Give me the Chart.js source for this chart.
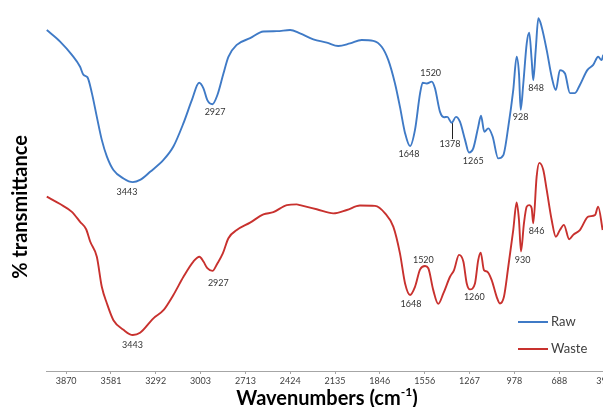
<!DOCTYPE html>
<html>
<head>
<meta charset="utf-8">
<script src="https://cdn.jsdelivr.net/npm/chart.js@4/dist/chart.umd.min.js"></script>
<style>
  html, body { margin: 0; padding: 0; background: #fff; overflow: hidden; }
  #wrap { position: relative; width: 640px; height: 407px; }
</style>
</head>
<body>
<div id="wrap"><canvas id="ftir"></canvas></div>
<script>
// wavenumber ticks (cm-1), as printed on the axis
const tickLabels = [3870, 3581, 3292, 3003, 2713, 2424, 2135, 1846, 1556, 1267, 978, 688, 399];

// Raw sample: wavenumber / % transmittance
const rawWn = [3995, 3909, 3833, 3780, 3758, 3733, 3704, 3672, 3640, 3607, 3565, 3500, 3440, 3393, 3328, 3242, 3178, 3113, 3059, 3012,
  2984, 2959, 2926, 2894, 2855, 2823, 2769, 2683, 2597, 2511, 2425, 2361, 2275, 2188, 2114, 2038, 1963, 1888, 1834, 1791,
  1748, 1716, 1683, 1651, 1619, 1586, 1569, 1543, 1511, 1490, 1458, 1432, 1411, 1382, 1355, 1329, 1296, 1271, 1243, 1211,
  1193, 1172, 1146, 1118, 1082, 1049, 1017, 985, 963, 948, 937, 920, 898, 882, 866, 856, 840, 823, 802, 769,
  737, 710, 684, 651, 619, 587, 555, 507, 469, 437, 415, 404];
const rawT = [91.9, 88.8, 85.2, 82.0, 79.8, 79.2, 74.9, 68.5, 62.3, 57.8, 54.2, 51.9, 50.9, 51.5, 53.7, 56.9, 60.5, 66.8, 73.0, 77.7,
  76.2, 73.0, 71.9, 74.4, 80.2, 84.7, 87.9, 89.7, 91.5, 91.6, 91.9, 91.0, 89.4, 88.5, 87.6, 88.3, 89.2, 89.0, 87.4, 83.8,
  77.5, 71.2, 64.1, 60.6, 65.0, 74.9, 77.7, 77.5, 78.0, 76.2, 69.9, 68.4, 68.5, 66.9, 68.5, 67.2, 62.3, 58.9, 60.0, 65.8,
  68.8, 64.5, 65.4, 63.2, 57.3, 58.2, 65.8, 75.7, 84.7, 80.2, 70.4, 77.5, 88.3, 91.2, 83.8, 78.4, 86.5, 95.1, 92.8, 86.5,
  79.3, 75.7, 81.1, 80.2, 74.9, 74.9, 77.1, 81.1, 82.5, 84.7, 83.8, 85.2];

// Waste sample
const wasteWn = [3995, 3909, 3833, 3780, 3741, 3715, 3672, 3640, 3607, 3565, 3500, 3440, 3393, 3307, 3242, 3178, 3113, 3049, 3010, 2984,
  2959, 2926, 2894, 2859, 2823, 2769, 2683, 2597, 2533, 2446, 2382, 2361, 2253, 2146, 2059, 1974, 1877, 1812, 1759, 1716,
  1683, 1651, 1619, 1586, 1554, 1533, 1501, 1469, 1436, 1393, 1367, 1335, 1307, 1285, 1264, 1232, 1211, 1195, 1174, 1153,
  1124, 1092, 1071, 1045, 1017, 985, 963, 948, 935, 916, 898, 882, 866, 856, 834, 817, 791, 769, 737, 710,
  684, 658, 624, 598, 555, 501, 458, 437, 408];
const wasteT = [47.0, 45.0, 42.9, 40.2, 38.2, 34.9, 30.8, 22.7, 18.2, 13.7, 11.1, 9.7, 10.3, 14.2, 16.4, 20.5, 25.4, 29.5, 30.8, 29.5,
  27.7, 27.0, 29.0, 31.7, 35.8, 38.0, 40.0, 42.2, 42.8, 44.7, 44.9, 44.7, 43.6, 42.5, 43.4, 44.6, 44.5, 42.5, 38.9, 31.7,
  23.6, 20.5, 22.7, 27.4, 28.3, 27.7, 21.8, 18.1, 20.9, 25.4, 27.2, 31.3, 29.5, 23.6, 22.0, 23.6, 29.9, 31.9, 27.2, 26.8,
  24.5, 20.0, 18.2, 20.0, 28.1, 38.0, 45.4, 40.7, 32.2, 39.8, 44.3, 44.7, 43.9, 39.8, 52.4, 56.1, 54.2, 48.8, 40.7, 36.2,
  38.0, 39.4, 35.5, 36.7, 38.0, 41.6, 42.0, 44.3, 38.0];

// peak labels: text, wavenumber and transmittance where the label sits
const rawPeakText = ['3443', '2927', '1648', '1520', '1378', '1265', '928', '848'];
const rawPeakWn = [3477, 2909, 1658, 1518, 1393, 1243, 937, 838];
const rawPeakT = [48.2, 69.8, 58.5, 80.2, 61.2, 56.7, 68.5, 76.2];
const wastePeakText = ['3443', '2927', '1648', '1520', '1260', '930', '846'];
const wastePeakWn = [3442, 2888, 1645, 1565, 1236, 924, 834];
const wastePeakT = [7.0, 23.8, 18.0, 29.9, 20.0, 29.9, 37.7];

// leader line for the 1378 band on the raw curve
const leaderWn = 1378;
const leaderT = [66.8, 62.5];

const seriesNames = ['Raw', 'Waste'];
const seriesColors = ['#3f7ac6', '#c8312e'];

const toXY = (xs, ys) => xs.map((x, i) => ({ x: x, y: ys[i] }));

const annotate = {
    id: 'annotate',
    afterDatasetsDraw(chart) {
        const ctx = chart.ctx;
        const xs = chart.scales.x, ys = chart.scales.y;
        const area = chart.chartArea;
        ctx.save();

        // leader line
        ctx.strokeStyle = '#222';
        ctx.lineWidth = 1;
        ctx.beginPath();
        ctx.moveTo(Math.round(xs.getPixelForValue(leaderWn)) + 0.5, ys.getPixelForValue(leaderT[0]));
        ctx.lineTo(Math.round(xs.getPixelForValue(leaderWn)) + 0.5, ys.getPixelForValue(leaderT[1]));
        ctx.stroke();

        // peak labels
        ctx.fillStyle = '#333';
        ctx.font = '9px Lato';
        ctx.textAlign = 'center';
        ctx.textBaseline = 'middle';
        rawPeakText.forEach((t, i) => ctx.fillText(t, xs.getPixelForValue(rawPeakWn[i]), ys.getPixelForValue(rawPeakT[i])));
        wastePeakText.forEach((t, i) => ctx.fillText(t, xs.getPixelForValue(wastePeakWn[i]), ys.getPixelForValue(wastePeakT[i])));

        // legend
        ctx.font = '13px Lato';
        ctx.textAlign = 'left';
        seriesNames.forEach((name, i) => {
            const y = area.bottom - 49 + i * 27;
            const x0 = area.right - 89;
            ctx.strokeStyle = seriesColors[i];
            ctx.lineWidth = 2;
            ctx.beginPath();
            ctx.moveTo(x0, y);
            ctx.lineTo(x0 + 30, y);
            ctx.stroke();
            ctx.fillStyle = '#404040';
            ctx.fillText(name, x0 + 33, y);
        });

        // axis titles
        ctx.fillStyle = '#000';
        ctx.font = 'bold 20px Lato';
        ctx.textBaseline = 'alphabetic';
        const main = 'Wavenumbers (cm';
        const sup = '-1';
        const close = ')';
        const wMain = ctx.measureText(main).width;
        ctx.font = 'bold 12px Lato';
        const wSup = ctx.measureText(sup).width;
        ctx.font = 'bold 20px Lato';
        const wClose = ctx.measureText(close).width;
        let tx = 327 - (wMain + wSup + wClose) / 2;
        const base = 405;
        ctx.fillText(main, tx, base);
        tx += wMain;
        ctx.font = 'bold 12px Lato';
        ctx.fillText(sup, tx, base - 9);
        tx += wSup;
        ctx.font = 'bold 20px Lato';
        ctx.fillText(close, tx, base);

        ctx.translate(21, 207);
        ctx.rotate(-Math.PI / 2);
        ctx.textAlign = 'center';
        ctx.textBaseline = 'middle';
        ctx.fillText('% transmittance', 0, 0);
        ctx.restore();
    }
};

new Chart(document.getElementById('ftir').getContext('2d'), {
    type: 'line',
    data: {
        datasets: [
            { label: seriesNames[0], data: toXY(rawWn, rawT), borderColor: seriesColors[0] },
            { label: seriesNames[1], data: toXY(wasteWn, wasteT), borderColor: seriesColors[1] }
        ].map(d => Object.assign(d, { borderWidth: 1.9, pointRadius: 0, tension: 0.3, cubicInterpolationMode: 'monotone', fill: false }))
    },
    options: {
        responsive: true,
        maintainAspectRatio: false,
        animation: false,
        layout: { padding: { left: 46, right: 33, top: 0, bottom: 0 } },
        plugins: { legend: { display: false }, tooltip: { enabled: false } },
        scales: {
            x: {
                type: 'linear',
                reverse: true,
                min: 380,
                max: 4000,
                afterBuildTicks: scale => { scale.ticks = tickLabels.map(v => ({ value: v })); },
                afterFit: scale => { scale.height = 36; },
                border: { display: true, color: '#a6a6a6', width: 1 },
                grid: { drawOnChartArea: false, drawTicks: true, tickLength: 3, color: '#a6a6a6' },
                ticks: { color: '#404040', font: { family: 'Lato', size: 9 }, padding: 2, maxRotation: 0, autoSkip: false, callback: v => String(v) }
            },
            y: {
                display: false,
                min: 0,
                max: 100
            }
        }
    },
    plugins: [annotate]
});
</script>
</body>
</html>
